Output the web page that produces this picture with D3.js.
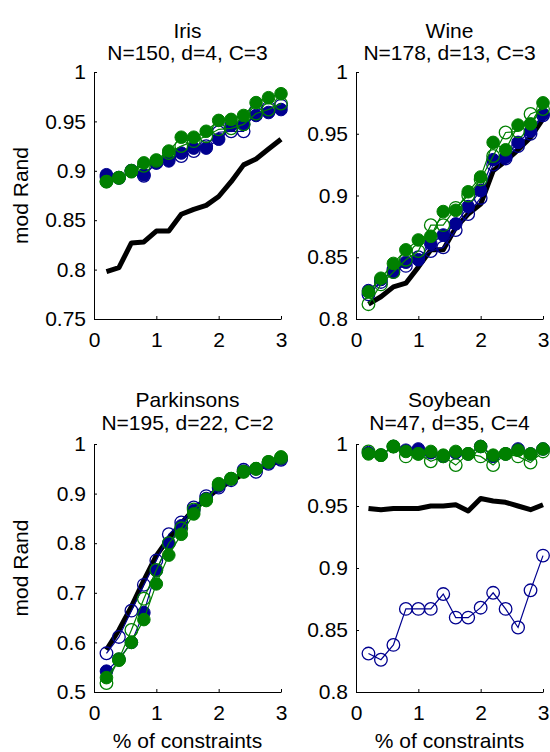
<!DOCTYPE html>
<html><head><meta charset="utf-8">
<script src="https://cdn.jsdelivr.net/npm/d3@7"></script>
<style>
body{margin:0;background:#fff}
text{font-family:"Liberation Sans",Arial,Helvetica,sans-serif;fill:#000}
</style>
</head><body>
<svg id="chart" width="550" height="752"></svg>
<script>
// ---------- data ----------
const xValues = [0.2,0.4,0.6,0.8,1.0,1.2,1.4,1.6,1.8,2.0,2.2,2.4,2.6,2.8,3.0];
const xTicks = [0,1,2,3];
const xTickLabels = ["0","1","2","3"];

const titles = [
  ["Iris","N=150, d=4, C=3"],
  ["Wine","N=178, d=13, C=3"],
  ["Parkinsons","N=195, d=22, C=2"],
  ["Soybean","N=47, d=35, C=4"]
];
const yDomains = [[0.75,1],[0.8,1],[0.5,1],[0.8,1]];
const yTicksIris = [0.75,0.8,0.85,0.9,0.95,1];
const yTickLabelsIris = ["0.75","0.8","0.85","0.9","0.95","1"];
const yTicksWine = [0.8,0.85,0.9,0.95,1];
const yTickLabelsWine = ["0.8","0.85","0.9","0.95","1"];
const yTicksPark = [0.5,0.6,0.7,0.8,0.9,1];
const yTickLabelsPark = ["0.5","0.6","0.7","0.8","0.9","1"];
const yTicksSoy = [0.8,0.85,0.9,0.95,1];
const yTickLabelsSoy = ["0.8","0.85","0.9","0.95","1"];

const irisBlack       = [0.798,0.802,0.827,0.828,0.839,0.839,0.856,0.861,0.865,0.874,0.889,0.906,0.912,0.922,0.932];
const irisBlueOpen    = [0.894,0.893,0.900,0.895,0.908,0.913,0.915,0.920,0.925,0.939,0.940,0.940,0.961,0.964,0.966];
const irisBlueFilled  = [0.896,0.893,0.900,0.896,0.908,0.910,0.918,0.923,0.923,0.932,0.946,0.947,0.956,0.959,0.962];
const irisGreenOpen   = [0.889,0.893,0.900,0.905,0.910,0.918,0.925,0.930,0.935,0.942,0.943,0.947,0.958,0.962,0.968];
const irisGreenFilled = [0.889,0.893,0.899,0.908,0.911,0.920,0.934,0.934,0.940,0.951,0.952,0.956,0.969,0.974,0.978];

const wineBlack       = [0.812,0.818,0.826,0.829,0.842,0.856,0.856,0.874,0.885,0.893,0.920,0.928,0.937,0.947,0.962];
const wineBlueOpen    = [0.820,0.830,0.840,0.843,0.850,0.855,0.858,0.872,0.885,0.898,0.925,0.930,0.940,0.950,0.965];
const wineBlueFilled  = [0.823,0.832,0.838,0.846,0.848,0.861,0.868,0.877,0.891,0.904,0.929,0.931,0.943,0.952,0.966];
const wineGreenOpen   = [0.812,0.828,0.838,0.848,0.855,0.876,0.876,0.890,0.900,0.913,0.932,0.951,0.952,0.966,0.970];
const wineGreenFilled = [0.822,0.833,0.845,0.856,0.864,0.867,0.887,0.888,0.903,0.915,0.943,0.937,0.957,0.958,0.975];

const parkBlack       = [0.585,0.625,0.672,0.725,0.775,0.810,0.840,0.868,0.890,0.910,0.925,0.940,0.950,0.958,0.966];
const parkBlueOpen    = [0.578,0.611,0.664,0.716,0.765,0.818,0.842,0.872,0.895,0.912,0.927,0.948,0.944,0.960,0.968];
const parkBlueFilled  = [0.542,0.566,0.600,0.660,0.745,0.800,0.835,0.866,0.890,0.915,0.930,0.945,0.950,0.962,0.970];
const parkGreenOpen   = [0.518,0.566,0.625,0.688,0.746,0.800,0.830,0.868,0.888,0.918,0.930,0.944,0.950,0.964,0.972];
const parkGreenFilled = [0.529,0.564,0.600,0.646,0.718,0.776,0.818,0.859,0.886,0.920,0.930,0.944,0.950,0.964,0.974];

const soyBlack        = [0.948,0.947,0.948,0.948,0.948,0.950,0.950,0.951,0.946,0.956,0.954,0.953,0.950,0.947,0.951];
const soyBlueOpen     = [0.831,0.826,0.838,0.867,0.867,0.867,0.879,0.860,0.860,0.868,0.880,0.867,0.852,0.882,0.910];
const soyBlueFilled   = [0.993,0.991,0.998,0.995,0.996,0.993,0.990,0.993,0.992,0.998,0.990,0.992,0.996,0.992,0.996];
const soyGreenOpen    = [0.994,0.991,0.998,0.990,0.992,0.986,0.990,0.983,0.992,0.990,0.983,0.992,0.990,0.985,0.994];
const soyGreenFilled  = [0.992,0.991,0.998,0.994,0.992,0.994,0.991,0.994,0.992,0.998,0.991,0.992,0.995,0.992,0.996];

const datasets = [
  {black:irisBlack, blueOpen:irisBlueOpen, blueFilled:irisBlueFilled, greenOpen:irisGreenOpen, greenFilled:irisGreenFilled, ticks:yTicksIris, labels:yTickLabelsIris},
  {black:wineBlack, blueOpen:wineBlueOpen, blueFilled:wineBlueFilled, greenOpen:wineGreenOpen, greenFilled:wineGreenFilled, ticks:yTicksWine, labels:yTickLabelsWine},
  {black:parkBlack, blueOpen:parkBlueOpen, blueFilled:parkBlueFilled, greenOpen:parkGreenOpen, greenFilled:parkGreenFilled, ticks:yTicksPark, labels:yTickLabelsPark},
  {black:soyBlack, blueOpen:soyBlueOpen, blueFilled:soyBlueFilled, greenOpen:soyGreenOpen, greenFilled:soyGreenFilled, ticks:yTicksSoy, labels:yTickLabelsSoy}
];

// ---------- layout / style ----------
const cols = [[94,281],[356,543]];
const rows = [[72,319],[444,692]];
const titleBaselines = [[38,60],[407,430]];
const FONT = 21;
const BLUE = "#00008f", GREEN = "#008000";
const R = 6.3;

const svg = d3.select("#chart");

datasets.forEach((ds, i) => {
  const ri = Math.floor(i / 2);
  const c = cols[i % 2], r = rows[ri];
  const x = d3.scaleLinear().domain([0,3]).range(c);
  const y = d3.scaleLinear().domain(yDomains[i]).range([r[1], r[0]]);
  const g = svg.append("g");

  // axes
  const yAxis = d3.axisLeft(y).tickValues(ds.ticks)
    .tickFormat((d,k) => ds.labels[k]).tickSizeInner(-3).tickSizeOuter(0).tickPadding(8);
  const xAxis = d3.axisBottom(x).tickValues(xTicks)
    .tickFormat((d,k) => xTickLabels[k]).tickSizeInner(-3).tickSizeOuter(0).tickPadding(13);
  const ga = g.append("g").attr("transform", `translate(${c[0]},0)`).call(yAxis);
  const gb = g.append("g").attr("transform", `translate(0,${r[1]})`).call(xAxis);
  [ga, gb].forEach(a => {
    a.selectAll("text").attr("font-size", FONT).style("font-family", '"Liberation Sans",Arial,sans-serif').attr("fill","#000");
    a.selectAll("path,line").attr("stroke","#000").attr("stroke-width",1);
    a.attr("font-size", null);
  });

  // titles
  const cx = (c[0] + c[1]) / 2;
  g.append("text").attr("x", cx).attr("y", titleBaselines[ri][0]).attr("text-anchor","middle")
    .attr("font-size", FONT).text(titles[i][0]);
  g.append("text").attr("x", cx).attr("y", titleBaselines[ri][1]).attr("text-anchor","middle")
    .attr("font-size", FONT).text(titles[i][1]);

  if (i % 2 === 0) {
    g.append("text").attr("transform", `translate(28,${(r[0]+r[1])/2}) rotate(-90)`)
      .attr("text-anchor","middle").attr("font-size", FONT).text("mod Rand");
  }
  if (i >= 2) {
    g.append("text").attr("x", cx).attr("y", 748).attr("text-anchor","middle")
      .attr("font-size", FONT).text("% of constraints");
  }

  const line = d3.line().x((d,k) => x(xValues[k])).y(d => y(d));

  // black thick line
  g.append("path").datum(ds.black).attr("d", line)
    .attr("fill","none").attr("stroke","#000").attr("stroke-width",5).attr("stroke-linejoin","round");

  const series = [
    {vals: ds.blueFilled, color: BLUE, filled: true},
    {vals: ds.blueOpen, color: BLUE, filled: false},
    {vals: ds.greenOpen, color: GREEN, filled: false},
    {vals: ds.greenFilled, color: GREEN, filled: true}
  ];
  series.forEach(s => {
    const sg = g.append("g");
    sg.append("path").datum(s.vals).attr("d", line)
      .attr("fill","none").attr("stroke", s.color).attr("stroke-width",1.2);
    sg.selectAll("circle").data(s.vals).join("circle")
      .attr("cx", (d,k) => x(xValues[k])).attr("cy", d => y(d)).attr("r", R)
      .attr("fill", s.filled ? s.color : "none")
      .attr("stroke", s.color).attr("stroke-width", s.filled ? 1 : 1.3);
  });
});
</script>
</body></html>
